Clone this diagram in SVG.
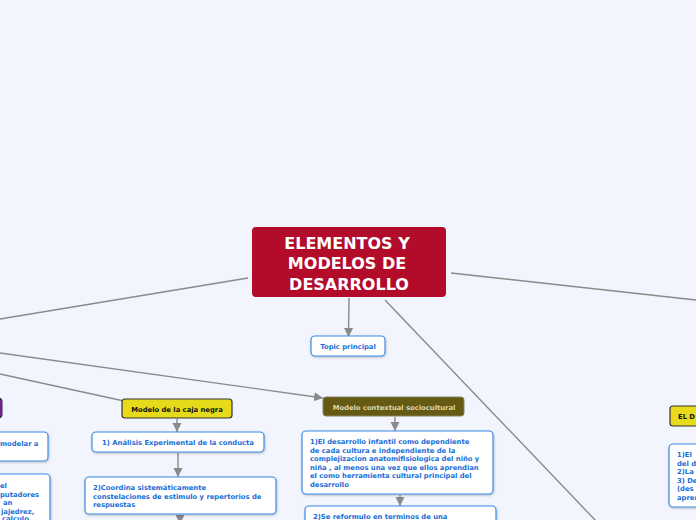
<svg xmlns="http://www.w3.org/2000/svg" width="696" height="520" viewBox="0 0 696 520">
<defs>
<marker id="ah" markerUnits="userSpaceOnUse" markerWidth="10" markerHeight="10" viewBox="0 0 10 10" refX="9" refY="5" orient="auto">
<path d="M0,0.5 L9,5 L0,9.5 Z" fill="#8a8a8a"/>
</marker>
<filter id="sh" x="-10%" y="-20%" width="120%" height="150%">
<feDropShadow dx="0.5" dy="1" stdDeviation="0.8" flood-color="#000" flood-opacity="0.25"/>
</filter>
</defs>
<style>
.ln{stroke:#8a8a8a;stroke-width:1.4;fill:none}
.bx{fill:#fff;stroke:#3d8be3;stroke-width:1.2}
.bt{font-family:"DejaVu Sans",Verdana,sans-serif;font-weight:bold;font-size:6.8px;fill:#1a6ed8}
.yl{fill:#e6da1a;stroke:#333;stroke-width:1.2}
.kt{font-family:"DejaVu Sans",Verdana,sans-serif;font-weight:bold;font-size:6.8px;fill:#111}
.ct{font-family:"DejaVu Sans",Verdana,sans-serif;font-weight:bold;font-size:16px;fill:#fff}
</style>
<rect width="696" height="520" fill="#f2f5fd"/>
<g id="connectors">
<line class="ln" x1="248" y1="278" x2="0" y2="319"/>
<line class="ln" x1="0" y1="353" x2="323" y2="398" marker-end="url(#ah)"/>
<line class="ln" x1="0" y1="374" x2="124" y2="401"/>
<line class="ln" x1="349" y1="298" x2="348.5" y2="337" marker-end="url(#ah)"/>
<line class="ln" x1="451" y1="273" x2="696" y2="300"/>
<line class="ln" x1="385" y1="300" x2="597" y2="522"/>
<line class="ln" x1="177" y1="419" x2="177" y2="432" marker-end="url(#ah)"/>
<line class="ln" x1="178" y1="453" x2="178" y2="477" marker-end="url(#ah)"/>
<line class="ln" x1="180" y1="515" x2="180" y2="524" marker-end="url(#ah)"/>
<line class="ln" x1="395" y1="417" x2="395" y2="431" marker-end="url(#ah)"/>
<line class="ln" x1="400" y1="495" x2="400" y2="506" marker-end="url(#ah)"/>
</g>
<g id="central">
<rect x="252" y="227" width="194" height="70" rx="4" fill="#b30c2b"/>
<text class="ct" text-anchor="middle" x="347" y="249">ELEMENTOS Y</text>
<text class="ct" text-anchor="middle" x="347" y="269">MODELOS DE</text>
<text class="ct" text-anchor="middle" x="349" y="290">DESARROLLO</text>
</g>
<g id="topic">
<rect class="bx" x="311" y="336" width="74" height="20" rx="4" filter="url(#sh)"/>
<text class="bt" text-anchor="middle" x="348" y="349">Topic principal</text>
</g>
<g id="caja">
<rect class="yl" x="122" y="399" width="110" height="19" rx="3"/>
<text class="kt" text-anchor="middle" x="177" y="411.5">Modelo de la caja negra</text>
</g>
<g id="caja1">
<rect class="bx" x="92" y="432" width="172" height="20" rx="4" filter="url(#sh)"/>
<text class="bt" text-anchor="middle" x="178" y="445">1) Análisis Experimental de la conducta</text>
</g>
<g id="caja2">
<rect class="bx" x="85" y="477" width="191" height="37" rx="4" filter="url(#sh)"/>
<text class="bt" x="93" y="490">2)Coordina sistemáticamente</text>
<text class="bt" x="93" y="498.5">constelaciones de estimulo y repertorios de</text>
<text class="bt" x="93" y="507">respuestas</text>
</g>
<g id="contextual">
<rect x="323" y="397" width="141" height="19" rx="3" fill="#655a13" stroke="#8a8060" stroke-width="1"/>
<text class="kt" text-anchor="middle" x="394" y="409.5" style="fill:#ddd6ad">Modelo contextual sociocultural</text>
</g>
<g id="ctx1">
<rect class="bx" x="302" y="431" width="191" height="63" rx="4" filter="url(#sh)"/>
<text class="bt" x="310" y="444">1)El desarrollo infantil como dependiente</text>
<text class="bt" x="310" y="452.5">de cada cultura e independiente de la</text>
<text class="bt" x="310" y="461">complejizacion anatomifisiologica del niño y</text>
<text class="bt" x="310" y="469.5">niña , al menos una vez que ellos aprendian</text>
<text class="bt" x="310" y="478">el como herramienta cultural principal del</text>
<text class="bt" x="310" y="486.5">desarrollo</text>
</g>
<g id="ctx2">
<rect class="bx" x="305" y="506" width="191" height="30" rx="4" filter="url(#sh)"/>
<text class="bt" x="313" y="518.5">2)Se reformulo en terminos de una</text>
</g>
<g id="right-head">
<rect class="yl" x="670" y="406" width="60" height="20" rx="3"/>
<text class="kt" x="678" y="418.5">EL D</text>
</g>
<g id="right-box">
<rect class="bx" x="669" y="444" width="60" height="63" rx="4" filter="url(#sh)"/>
<text class="bt" x="677" y="457">1)El</text>
<text class="bt" x="677" y="465.5">del d</text>
<text class="bt" x="677" y="474">2)La</text>
<text class="bt" x="677" y="482.5">3) De</text>
<text class="bt" x="677" y="491">(des</text>
<text class="bt" x="677" y="499.5">apren</text>
</g>
<g id="left-purple">
<rect x="-60" y="398" width="62" height="20" rx="3" fill="#7a1fa0" stroke="#333" stroke-width="1"/>
</g>
<g id="left-box1">
<rect class="bx" x="-100" y="432" width="148" height="29" rx="4" filter="url(#sh)"/>
<text class="bt" x="0" y="446">modelar a</text>
</g>
<g id="left-box2">
<rect class="bx" x="-100" y="474" width="150" height="60" rx="4" filter="url(#sh)"/>
<text class="bt" x="0" y="488">el</text>
<text class="bt" x="0" y="496.5">putadores</text>
<text class="bt" x="3" y="505">an</text>
<text class="bt" x="1" y="513.5">jajedrez,</text>
<text class="bt" x="2" y="521">calculo,</text>
</g>
</svg>
